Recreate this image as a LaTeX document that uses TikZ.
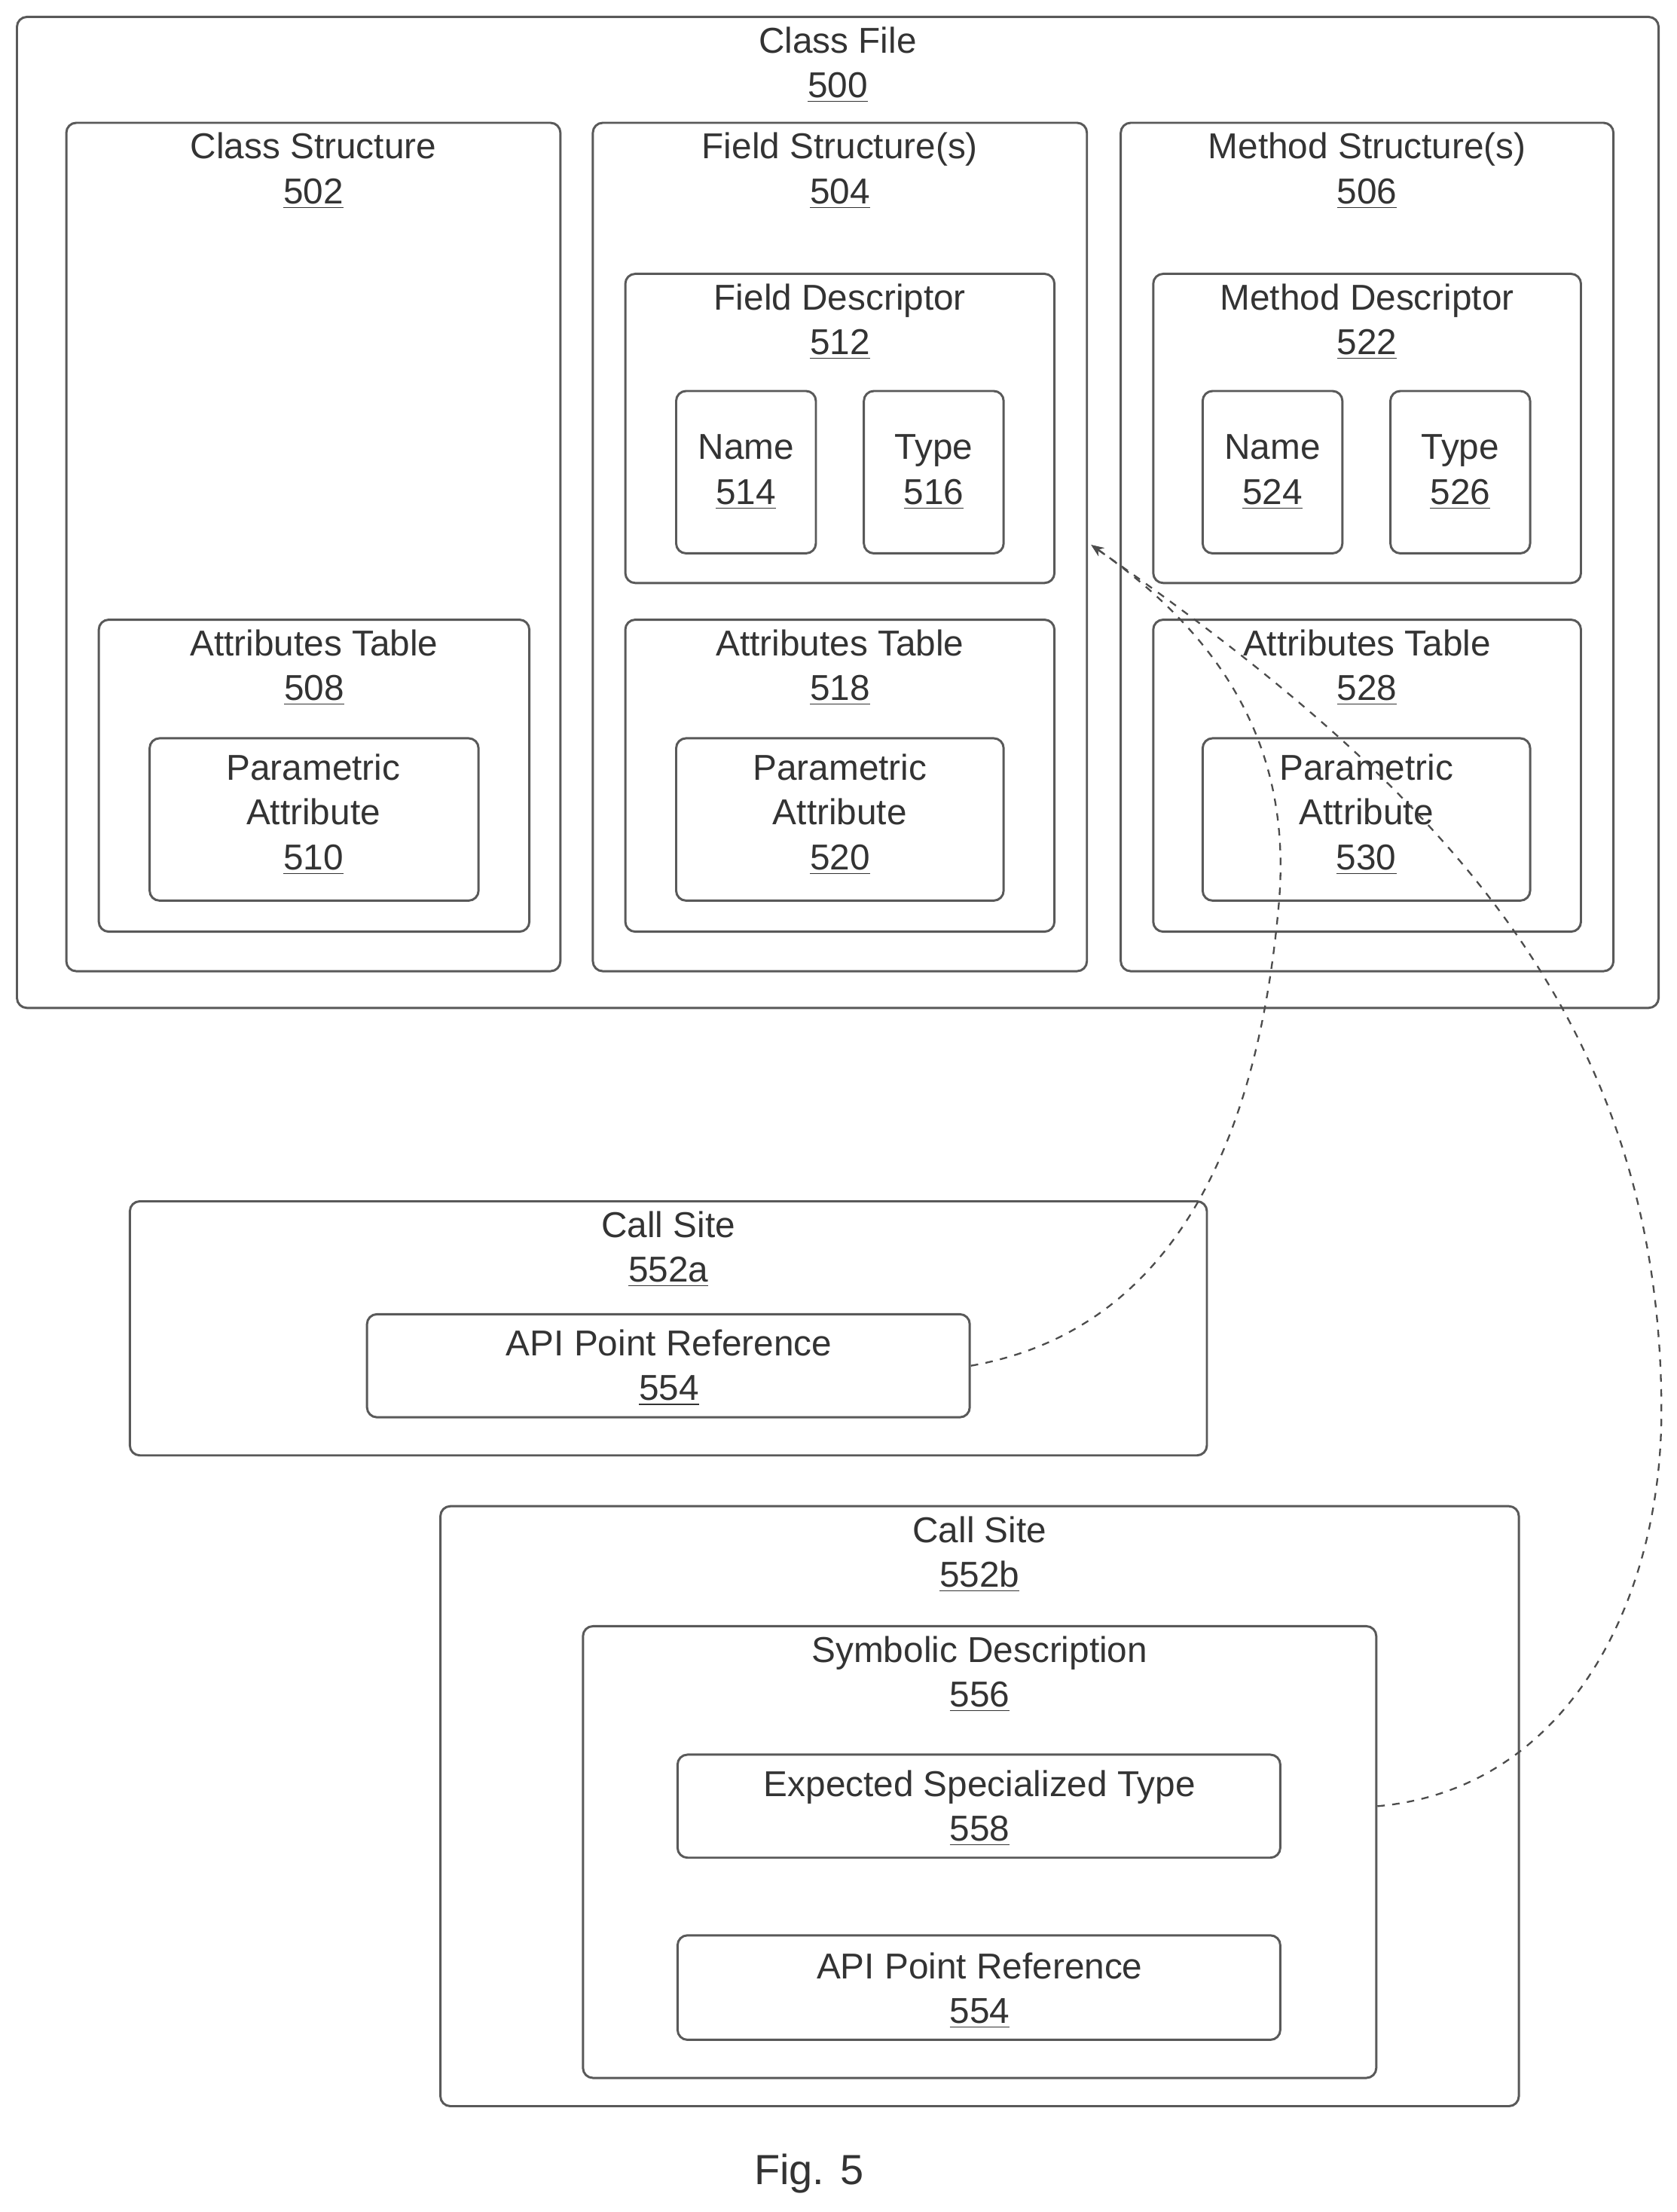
\documentclass[tikz,border=0pt]{standalone}
\usepackage{fontspec}
\setmainfont{Liberation Sans}
\usetikzlibrary{fit,arrows.meta}
\newcommand{\blk}[6]{%
  \node[blk, fit={(#2,#3) (#4,#5)}] (#1) {};%
  \node[lbl] (#1-t) at ({(#2+#4)/2},{#3+34}) {#6};%
}
\begin{document}
\begin{tikzpicture}[x=0.02cm,y=-0.02cm]
    % Styles
    \tikzset{blk/.style={draw=black!65, line width=0.9pt, rounded corners=4pt, inner sep=0pt}}%
    \tikzset{lbl/.style={align=center, text=black!80, font=\fontsize{14.5}{18}\selectfont}}%
    \tikzset{lien/.style={draw=black!70, dashed, line width=0.7pt, -{Stealth[length=5pt,width=4pt]}}}%
    \useasboundingbox (0,0) rectangle (1188,1567);

    % Class file
    \blk{cf}{12}{12}{1175}{714}{Class File\\\underline{500}}
    \blk{cs}{47}{87}{397}{688}{Class Structure\\\underline{502}}
    \blk{fs}{420}{87}{770}{688}{Field Structure(s)\\\underline{504}}
    \blk{ms}{794}{87}{1143}{688}{Method Structure(s)\\\underline{506}}

    % Descriptors
    \blk{fd}{443}{194}{747}{413}{Field Descriptor\\\underline{512}}
    \blk{md}{817}{194}{1120}{413}{Method Descriptor\\\underline{522}}
    \node[blk, fit={(479,277) (578,392)}] (fn) {};
    \node[lbl] (fn-t) at (fn) {Name\\\underline{514}};
    \node[blk, fit={(612,277) (711,392)}] (ft) {};
    \node[lbl] (ft-t) at (ft) {Type\\\underline{516}};
    \node[blk, fit={(852,277) (951,392)}] (mn) {};
    \node[lbl] (mn-t) at (mn) {Name\\\underline{524}};
    \node[blk, fit={(985,277) (1084,392)}] (mt) {};
    \node[lbl] (mt-t) at (mt) {Type\\\underline{526}};

    % Attributes tables
    \blk{at1}{70}{439}{375}{660}{Attributes Table\\\underline{508}}
    \blk{at2}{443}{439}{747}{660}{Attributes Table\\\underline{518}}
    \blk{at3}{817}{439}{1120}{660}{Attributes Table\\\underline{528}}
    \node[blk, fit={(106,523) (339,638)}] (pa1) {};
    \node[lbl] (pa1-t) at (222,577) {Parametric\\Attribute\\\underline{510}};
    \node[blk, fit={(479,523) (711,638)}] (pa2) {};
    \node[lbl] (pa2-t) at (595,577) {Parametric\\Attribute\\\underline{520}};
    \node[blk, fit={(852,523) (1084,638)}] (pa3) {};
    \node[lbl] (pa3-t) at (968,577) {Parametric\\Attribute\\\underline{530}};

    % Call sites
    \blk{csa}{92}{851}{855}{1031}{Call Site\\\underline{552a}}
    \node[blk, fit={(260,931) (687,1004)}] (apia) {};
    \node[lbl] (apia-t) at (474,969) {API Point Reference\\\underline{554}};
    \blk{csb}{312}{1067}{1076}{1492}{Call Site\\\underline{552b}}
    \blk{sd}{413}{1152}{975}{1472}{Symbolic Description\\\underline{556}}
    \node[blk, fit={(480,1243) (907,1316)}] (est) {};
    \node[lbl] (est-t) at (694,1281) {Expected Specialized Type\\\underline{558}};
    \node[blk, fit={(480,1371) (907,1445)}] (apib) {};
    \node[lbl] (apib-t) at (694,1410) {API Point Reference\\\underline{554}};

    \node[font=\fontsize{17}{20}\selectfont, text=black!80] (fig) at (573,1540) {Fig. 5};

    % References
    \coordinate (cible) at (773,386);
    \draw[lien] (apia.east) to[out=10,in=-95] (906,640) to[out=85,in=-35] (cible);
    \draw[lien] (sd.east |- est.east) to[out=5,in=-90] (1177,1000) to[out=90,in=-35] (cible);
\end{tikzpicture}
\end{document}
